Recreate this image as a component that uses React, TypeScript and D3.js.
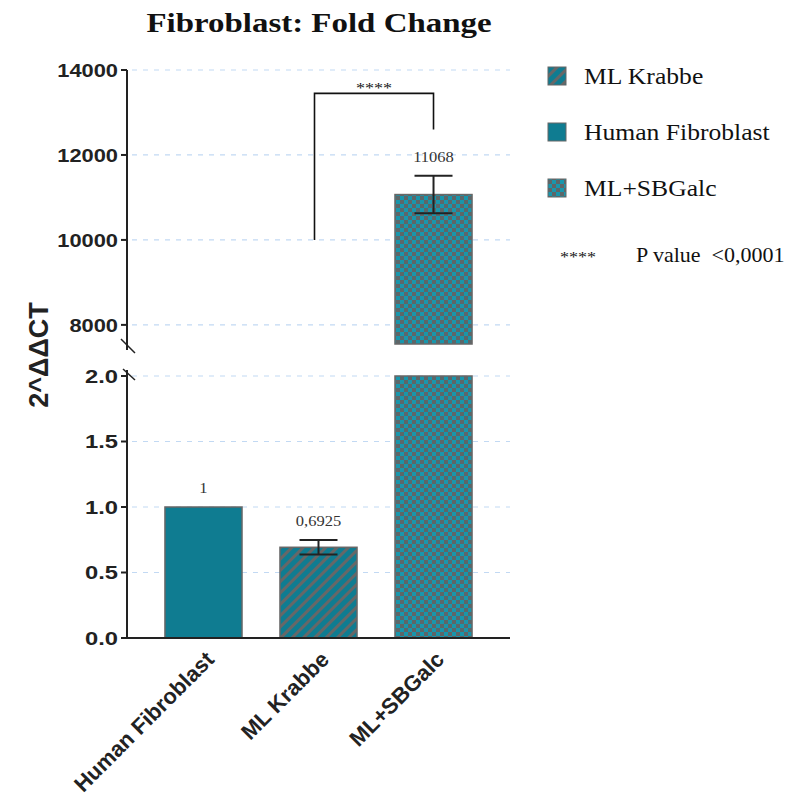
import React from "react";
import * as d3 from "d3";

// Groups along the x axis and their mean fold change with error (SD)
const categories = ["Human Fibroblast", "ML Krabbe", "ML+SBGalc"];
const means = [1, 0.6925, 11068];
const errors = [0, 0.055, 440];
const valueLabels = ["1", "0,6925", "11068"];
const fills = ["solid", "hatch", "checker"];

// Broken y axis: lower and upper segments
const lowerTicks = [0, 0.5, 1.0, 1.5, 2.0];
const upperTicks = [8000, 10000, 12000, 14000];
const lowerDomain = [0, 2];
const upperDomain = [7550, 14000];

// Legend entries (order as shown)
const legendNames = ["ML Krabbe", "Human Fibroblast", "ML+SBGalc"];
const legendFills = ["hatch", "solid", "checker"];

// Significance bracket between ML Krabbe and ML+SBGalc
const bracket = { from: "ML Krabbe", to: "ML+SBGalc", leftBase: 10000, top: 13450, rightBase: 12600, label: "****" };

const TEAL = "#0f7c91";
const TEAL_LIGHT = "#1896ac";
const GRAY = "#676767";
const SANS = "Liberation Sans, Arial, sans-serif";
const SERIF = "Liberation Serif, Times New Roman, serif";

// Text drawn with a slight horizontal widening
function WideText(props: {
  x: number;
  y: number;
  sx?: number;
  children: React.ReactNode;
  [k: string]: any;
}) {
  const { x, y, sx = 1.15, children, ...rest } = props;
  return (
    <g transform={`translate(${x},${y}) scale(${sx},1)`}>
      <text x={0} y={0} {...rest}>
        {children}
      </text>
    </g>
  );
}

export default function App() {
  const W = 788;
  const H = 803;
  const axisX = 127;

  const x = d3.scaleBand<string>().domain(categories).range([axisX, 510]).paddingInner(0.33).paddingOuter(0.33);
  const yLow = d3.scaleLinear().domain(lowerDomain).range([638, 376]);
  const yUp = d3.scaleLinear().domain(upperDomain).range([344, 70]);

  const fillUrl = (f: string) => (f === "solid" ? TEAL : f === "hatch" ? "url(#hatch)" : "url(#checker)");
  const bw = x.bandwidth();
  const capW = 38;
  const gridX2 = 510;

  return (
    <svg width={W} height={H} style={{ position: "absolute", left: 0, top: 0, background: "#fff" }}>
      <defs>
        <pattern id="hatch" width="8" height="8" patternUnits="userSpaceOnUse" patternTransform="rotate(45)">
          <rect width="8" height="8" fill={TEAL} />
          <rect width="3" height="8" fill={GRAY} />
        </pattern>
        <pattern id="checker" width="8" height="8" patternUnits="userSpaceOnUse">
          <rect width="8" height="8" fill={TEAL_LIGHT} />
          <rect width="4" height="4" fill="#5d6668" />
          <rect x="4" y="4" width="4" height="4" fill="#5d6668" />
        </pattern>
      </defs>

      {/* Title */}
      <WideText x={319} y={32} sx={1.22} textAnchor="middle" fontFamily={SERIF} fontWeight="bold" fontSize={27} fill="#111">
        Fibroblast: Fold Change
      </WideText>

      {/* Gridlines */}
      {upperTicks.map((t) => (
        <line key={"gu" + t} x1={axisX + 5} x2={gridX2} y1={yUp(t)} y2={yUp(t)} stroke="#c2d9f3" strokeWidth={1.2} strokeDasharray="5 6" />
      ))}
      {lowerTicks.filter((t) => t > 0).map((t) => (
        <line key={"gl" + t} x1={axisX + 5} x2={gridX2} y1={yLow(t)} y2={yLow(t)} stroke="#c2d9f3" strokeWidth={1.2} strokeDasharray="5 6" />
      ))}

      {/* Bars */}
      {categories.map((c, i) => {
        const x0 = x(c)!;
        const v = means[i];
        const f = fillUrl(fills[i]);
        if (v <= lowerDomain[1]) {
          return (
            <rect key={c} x={x0} y={yLow(v)} width={bw} height={yLow(0) - yLow(v)} fill={f} stroke={GRAY} strokeWidth={1.5} />
          );
        }
        return (
          <g key={c}>
            <rect x={x0} y={yLow(lowerDomain[1])} width={bw} height={yLow(0) - yLow(lowerDomain[1])} fill={f} stroke={GRAY} strokeWidth={1.5} />
            <rect x={x0} y={yUp(v)} width={bw} height={yUp(upperDomain[0]) - yUp(v)} fill={f} stroke={GRAY} strokeWidth={1.5} />
          </g>
        );
      })}

      {/* Error bars */}
      {categories.map((c, i) => {
        if (!errors[i]) return null;
        const v = means[i];
        const sc = v <= lowerDomain[1] ? yLow : yUp;
        const cx = x(c)! + bw / 2;
        const top = sc(v + errors[i]);
        const bot = sc(v - errors[i]);
        return (
          <g key={"e" + c} stroke="#222" strokeWidth={2}>
            <line x1={cx} x2={cx} y1={top} y2={bot} />
            <line x1={cx - capW / 2} x2={cx + capW / 2} y1={top} y2={top} />
            <line x1={cx - capW / 2} x2={cx + capW / 2} y1={bot} y2={bot} />
          </g>
        );
      })}

      {/* Value labels */}
      {categories.map((c, i) => {
        const v = means[i];
        const sc = v <= lowerDomain[1] ? yLow : yUp;
        const cx = x(c)! + bw / 2;
        const top = sc(v + errors[i]);
        return (
          <WideText key={"v" + c} x={cx} y={top - 14} sx={1.1} textAnchor="middle" fontFamily={SERIF} fontSize={15} fill="#333">
            {valueLabels[i]}
          </WideText>
        );
      })}

      {/* Significance bracket */}
      {(() => {
        const lx = x(bracket.from)! + bw / 2 - 4;
        const rx = x(bracket.to)! + bw / 2;
        const ty = yUp(bracket.top);
        return (
          <g>
            <path
              d={`M${lx},${yUp(bracket.leftBase)} V${ty} H${rx} V${yUp(bracket.rightBase)}`}
              fill="none"
              stroke="#111"
              strokeWidth={1.6}
            />
            <WideText x={(lx + rx) / 2} y={ty} sx={1.2} textAnchor="middle" fontFamily={SERIF} fontSize={15} fill="#111">
              {bracket.label}
            </WideText>
          </g>
        );
      })()}

      {/* Y axis: upper segment */}
      <line x1={axisX} x2={axisX} y1={yUp(14000)} y2={350} stroke="#222" strokeWidth={2} />
      <line x1={121} x2={135} y1={339} y2={353} stroke="#222" strokeWidth={1.5} />
      {upperTicks.map((t) => (
        <g key={"tu" + t}>
          <line x1={axisX - 6} x2={axisX} y1={yUp(t)} y2={yUp(t)} stroke="#222" strokeWidth={2} />
          <WideText x={axisX - 9} y={yUp(t)} dy="0.36em" textAnchor="end" fontFamily={SANS} fontWeight="bold" fontSize={19} fill="#222">
            {t}
          </WideText>
        </g>
      ))}

      {/* Y axis: lower segment */}
      <line x1={axisX} x2={axisX} y1={370} y2={yLow(0)} stroke="#222" strokeWidth={2} />
      <line x1={123} x2={135} y1={369} y2={380} stroke="#222" strokeWidth={1.5} />
      {lowerTicks.map((t) => (
        <g key={"tl" + t}>
          <line x1={axisX - 6} x2={axisX} y1={yLow(t)} y2={yLow(t)} stroke="#222" strokeWidth={2} />
          <WideText x={axisX - 9} y={yLow(t)} dy="0.36em" sx={1.25} textAnchor="end" fontFamily={SANS} fontWeight="bold" fontSize={19} fill="#222">
            {d3.format(".1f")(t)}
          </WideText>
        </g>
      ))}

      {/* X axis */}
      <line x1={axisX} x2={510} y1={yLow(0)} y2={yLow(0)} stroke="#222" strokeWidth={2} />
      {categories.map((c) => {
        const cx = x(c)! + bw / 2;
        return (
          <text
            key={"xl" + c}
            transform={`translate(${cx + 1},${yLow(0) + 12}) rotate(-45)`}
            textAnchor="end"
            dy="0.7em"
            fontFamily={SANS}
            fontWeight="bold"
            fontSize={22}
            fill="#222"
          >
            {c}
          </text>
        );
      })}

      {/* Y axis title */}
      <text transform={`translate(48,355) rotate(-90)`} textAnchor="middle" fontFamily={SANS} fontWeight="bold" fontSize={27} fill="#222">
        2^ΔΔCT
      </text>

      {/* Legend */}
      {legendNames.map((n, i) => {
        const yy = 76 + i * 56;
        return (
          <g key={"lg" + n}>
            <rect x={548} y={yy - 9} width={18} height={18} fill={fillUrl(legendFills[i])} stroke={GRAY} strokeWidth={1} />
            <WideText x={584} y={yy} dy="0.35em" sx={1.09} fontFamily={SERIF} fontSize={23.5} fill="#111">
              {n}
            </WideText>
          </g>
        );
      })}
      <WideText x={578} y={262} sx={1.2} textAnchor="middle" fontFamily={SERIF} fontSize={15} fill="#111">
        ****
      </WideText>
      <WideText x={636} y={255} dy="0.35em" sx={1.1} fontFamily={SERIF} fontSize={20} fill="#111" xmlSpace="preserve">
        {"P value  <0,0001"}
      </WideText>
    </svg>
  );
}
